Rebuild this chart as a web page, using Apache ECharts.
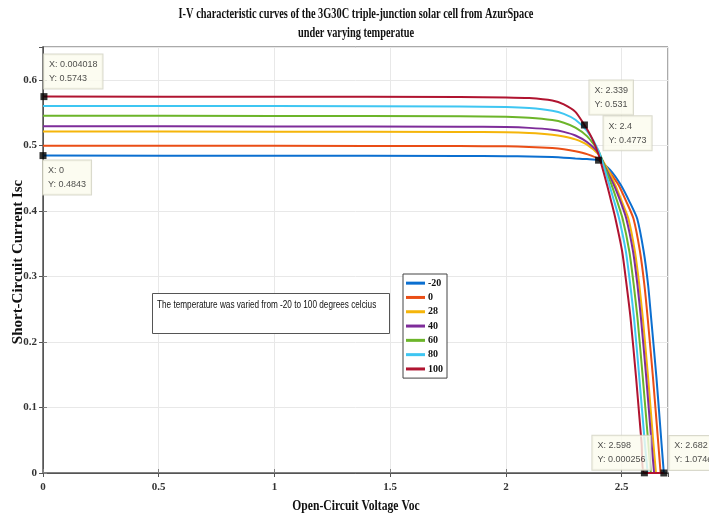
<!DOCTYPE html>
<html>
<head>
<meta charset="utf-8">
<script src="https://cdn.jsdelivr.net/npm/echarts@6/dist/echarts.min.js"></script>
<style>
  html, body { margin: 0; padding: 0; background: #fff; }
  #chart { width: 709px; height: 520px; }
</style>
</head>
<body>
<div id="chart"></div>
<script>
// temperatures (legend) and I-V points [V, I]
const temps = ['-20', '0', '28', '40', '60', '80', '100']
const colors = ['#0b6fd0', '#ea4e16', '#f5b50a', '#7e2c9a', '#6cb52a', '#3ec6f2', '#b01430']

const ivM20 = [[0, 0.4843], [1.0, 0.4841], [1.8, 0.4838], [2.0, 0.4834], [2.1, 0.4829], [2.2, 0.4820], [2.25, 0.4812], [2.3, 0.4800], [2.35, 0.4790], [2.4, 0.4773], [2.45, 0.4625], [2.497, 0.439], [2.535, 0.413], [2.567, 0.388], [2.595, 0.338], [2.614, 0.287], [2.627, 0.237], [2.650, 0.146], [2.672, 0.045], [2.682, 0]]
const ivP0 = [[0, 0.4995], [1.0, 0.4993], [1.8, 0.4989], [2.0, 0.4984], [2.1, 0.4976], [2.2, 0.4958], [2.25, 0.4940], [2.3, 0.4910], [2.35, 0.4865], [2.4, 0.479], [2.45, 0.458], [2.487, 0.439], [2.52, 0.414], [2.551, 0.388], [2.579, 0.338], [2.598, 0.287], [2.612, 0.237], [2.635, 0.146], [2.658, 0.045], [2.668, 0]]
const ivP28 = [[0, 0.521], [1.0, 0.5208], [1.8, 0.5204], [2.0, 0.5198], [2.1, 0.5187], [2.2, 0.5162], [2.25, 0.5135], [2.3, 0.5090], [2.35, 0.5010], [2.4, 0.486], [2.44, 0.463], [2.473, 0.439], [2.50, 0.415], [2.529, 0.388], [2.557, 0.338], [2.576, 0.287], [2.591, 0.237], [2.614, 0.146], [2.637, 0.045], [2.648, 0]]
const ivP40 = [[0, 0.529], [1.0, 0.5288], [1.8, 0.5284], [2.0, 0.5278], [2.1, 0.5266], [2.2, 0.5238], [2.25, 0.5205], [2.3, 0.5150], [2.35, 0.5050], [2.4, 0.488], [2.435, 0.462], [2.467, 0.439], [2.495, 0.414], [2.520, 0.388], [2.549, 0.338], [2.568, 0.287], [2.583, 0.237], [2.606, 0.146], [2.629, 0.045], [2.640, 0]]
const ivP60 = [[0, 0.545], [1.0, 0.5448], [1.8, 0.5443], [2.0, 0.5435], [2.1, 0.5420], [2.2, 0.5385], [2.25, 0.5345], [2.3, 0.5270], [2.35, 0.5140], [2.4, 0.491], [2.43, 0.464], [2.457, 0.439], [2.48, 0.415], [2.504, 0.388], [2.533, 0.338], [2.552, 0.287], [2.568, 0.237], [2.591, 0.146], [2.615, 0.045], [2.626, 0]]
const ivP80 = [[0, 0.560], [1.0, 0.5598], [1.8, 0.5593], [2.0, 0.5584], [2.1, 0.5568], [2.2, 0.5528], [2.25, 0.5480], [2.3, 0.5390], [2.35, 0.5220], [2.4, 0.492], [2.425, 0.465], [2.447, 0.439], [2.468, 0.414], [2.489, 0.388], [2.518, 0.338], [2.537, 0.287], [2.553, 0.237], [2.576, 0.146], [2.600, 0.045], [2.612, 0]]
const ivP100 = [[0, 0.5743], [1.0, 0.5741], [1.8, 0.5737], [2.0, 0.5731], [2.1, 0.5720], [2.2, 0.5683], [2.25, 0.5625], [2.3, 0.5510], [2.339, 0.5310], [2.37, 0.512], [2.4, 0.486], [2.437, 0.439], [2.455, 0.414], [2.473, 0.388], [2.502, 0.338], [2.521, 0.287], [2.538, 0.237], [2.562, 0.146], [2.586, 0.045], [2.598, 0], [2.682, 0]]
const curves = [ivM20, ivP0, ivP28, ivP40, ivP60, ivP80, ivP100]

// data tips
const tipX = [0.004018, 0, 2.339, 2.4, 2.598, 2.682]
const tipY = [0.5743, 0.4843, 0.531, 0.4773, 0.000256, 1.074e-5]
const tipText = [
  'X: 0.004018\nY: 0.5743',
  'X: 0\nY: 0.4843',
  'X: 2.339\nY: 0.531',
  'X: 2.4\nY: 0.4773',
  'X: 2.598\nY: 0.000256',
  'X: 2.682\nY: 1.074e-05'
]

const xTicks = { min: 0, max: 2.7, interval: 0.5 }
const yTicks = { min: 0, max: 0.65, interval: 0.1 }

const serif = "'Liberation Serif', 'Times New Roman', serif"
const sans = "'Liberation Sans', Arial, sans-serif"

const chart = echarts.init(document.getElementById('chart'))

let series = curves.map((data, i) => ({
  name: temps[i],
  type: 'line',
  data: data,
  showSymbol: false,
  smooth: 0.2,
  lineStyle: { width: 2, color: colors[i] },
  itemStyle: { color: colors[i] },
  z: 3
}))

const tipPos = [[3.5, -38.5], [3.5, 8.5], [8.5, -41], [8.5, -40.5], [-48.5, -33.5], [9, -33.5]]
series.push({
  type: 'scatter',
  symbol: 'rect',
  symbolSize: 7,
  clip: false,
  z: 10,
  itemStyle: { color: '#000' },
  data: tipX.map((x, i) => ({
    value: [x, tipY[i]],
    label: { position: tipPos[i] }
  })),
  label: {
    show: true,
    formatter: (p) => tipText[p.dataIndex],
    fontFamily: sans,
    fontSize: 9,
    lineHeight: 14,
    color: '#222',
    backgroundColor: '#fbfbee',
    borderColor: '#cfcfbf',
    borderWidth: 1,
    padding: [3, 5, 3, 5]
  }
})

const tickLabel = { fontFamily: serif, fontWeight: 'bold', fontSize: 11, color: '#333' }

const option = {
  backgroundColor: '#fff',
  animation: false,
  grid: { left: 43, right: 41, top: 47, bottom: 47, show: true, borderColor: '#555', borderWidth: 1 },
  legend: {
    data: temps,
    orient: 'vertical',
    left: 403,
    top: 274,
    icon: 'rect',
    itemWidth: 19,
    itemHeight: 3,
    itemGap: 0,
    padding: [2, 4, 2, 3],
    backgroundColor: '#fff',
    borderColor: '#444',
    borderWidth: 1,
    borderRadius: 0,
    textStyle: { fontFamily: serif, fontWeight: 'bold', fontSize: 10, color: '#111', lineHeight: 14.3, padding: [0, 0, 0, -2] }
  },
  xAxis: [{
    type: 'value',
    min: xTicks.min, max: xTicks.max, interval: xTicks.interval,
    axisLine: { lineStyle: { color: '#808080', width: 2 } },
    axisTick: { inside: true, length: 4, lineStyle: { color: '#808080' } },
    axisLabel: Object.assign({ margin: 9, showMaxLabel: false }, tickLabel),
    splitLine: { show: true, lineStyle: { color: '#e8e8e8' } }
  }, {
    type: 'value', position: 'top',
    min: xTicks.min, max: xTicks.max, interval: xTicks.interval,
    axisLine: { show: true, lineStyle: { color: '#555', width: 1 } },
    axisTick: { show: true, inside: true, length: 4, lineStyle: { color: '#555' } },
    axisLabel: { show: false },
    splitLine: { show: false }
  }],
  yAxis: [{
    type: 'value',
    min: yTicks.min, max: yTicks.max, interval: yTicks.interval,
    axisLine: { show: true, lineStyle: { color: '#808080', width: 2 } },
    axisTick: { show: true, inside: true, length: 4, lineStyle: { color: '#808080' } },
    axisLabel: Object.assign({ margin: 6, showMaxLabel: false }, tickLabel),
    splitLine: { show: true, lineStyle: { color: '#e8e8e8' } }
  }, {
    type: 'value', position: 'right',
    min: yTicks.min, max: yTicks.max, interval: yTicks.interval,
    axisLine: { show: true, lineStyle: { color: '#555', width: 1 } },
    axisTick: { show: true, inside: true, length: 4, lineStyle: { color: '#555' } },
    axisLabel: { show: false },
    splitLine: { show: false }
  }],
  graphic: [
    {
      type: 'text', x: 356, y: 14, scaleX: 0.74,
      style: { text: 'I-V characteristic curves of the 3G30C triple-junction solar cell from AzurSpace', font: 'bold 14px ' + serif, fill: '#111', textAlign: 'center', textVerticalAlign: 'middle' }
    },
    {
      type: 'text', x: 356, y: 33, scaleX: 0.74,
      style: { text: 'under varying temperatue', font: 'bold 14px ' + serif, fill: '#111', textAlign: 'center', textVerticalAlign: 'middle' }
    },
    {
      type: 'text', x: 356, y: 506, scaleX: 0.83,
      style: { text: 'Open-Circuit Voltage Voc', font: 'bold 14px ' + serif, fill: '#111', textAlign: 'center', textVerticalAlign: 'middle' }
    },
    {
      type: 'text', x: 18, y: 262, rotation: Math.PI / 2, scaleX: 1,
      style: { text: 'Short-Circuit Current Isc', font: 'bold 15px ' + serif, fill: '#111', textAlign: 'center', textVerticalAlign: 'middle' }
    },
    {
      type: 'rect', z: 20,
      shape: { x: 152.5, y: 293.5, width: 237, height: 40 },
      style: { fill: '#fff', stroke: '#555', lineWidth: 1 }
    },
    {
      type: 'text', z: 21, x: 157, y: 305, scaleX: 0.82,
      style: { text: 'The temperature was varied from -20 to 100 degrees celcius', font: '10px ' + sans, fill: '#111', textAlign: 'left', textVerticalAlign: 'middle' }
    }
  ],
  series: series
}

chart.setOption(option)
</script>
</body>
</html>
